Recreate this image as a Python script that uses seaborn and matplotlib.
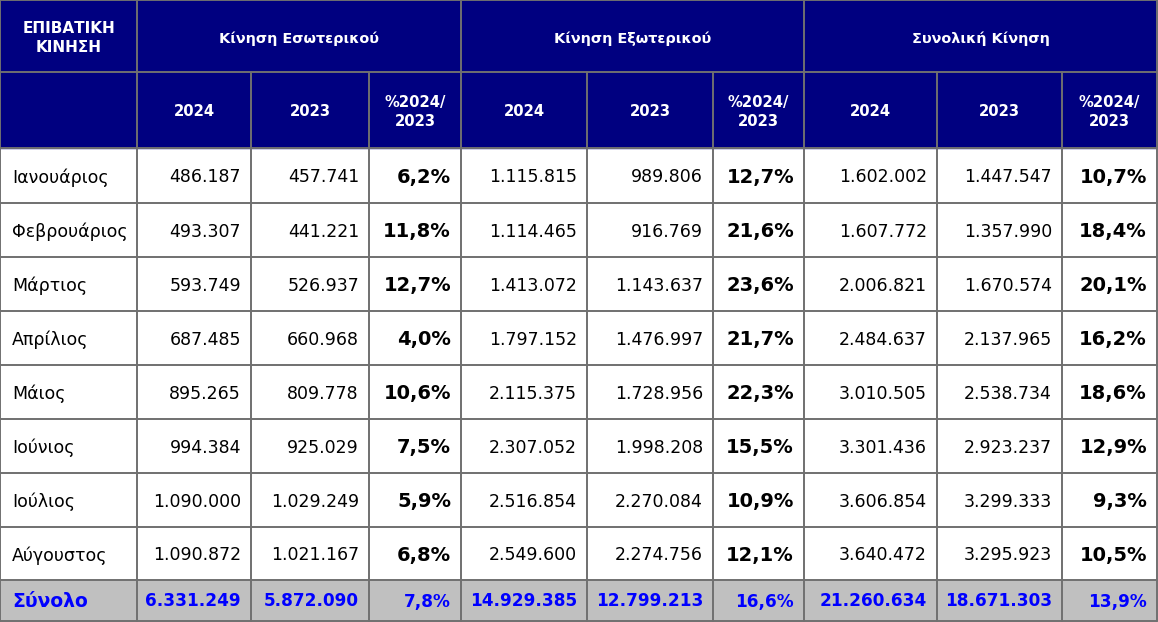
import matplotlib
matplotlib.use('Agg')
import matplotlib.pyplot as plt
import seaborn as sns
import pandas as pd
from matplotlib.patches import Rectangle

# passenger traffic data, Jan-Aug
months = ['Ιανουάριος', 'Φεβρουάριος', 'Μάρτιος', 'Απρίλιος', 'Μάιος',
          'Ιούνιος', 'Ιούλιος', 'Αύγουστος']
dom_2024 = [486187, 493307, 593749, 687485, 895265, 994384, 1090000, 1090872]
dom_2023 = [457741, 441221, 526937, 660968, 809778, 925029, 1029249, 1021167]
dom_pct = [6.2, 11.8, 12.7, 4.0, 10.6, 7.5, 5.9, 6.8]
int_2024 = [1115815, 1114465, 1413072, 1797152, 2115375, 2307052, 2516854, 2549600]
int_2023 = [989806, 916769, 1143637, 1476997, 1728956, 1998208, 2270084, 2274756]
int_pct = [12.7, 21.6, 23.6, 21.7, 22.3, 15.5, 10.9, 12.1]
tot_2024 = [1602002, 1607772, 2006821, 2484637, 3010505, 3301436, 3606854, 3640472]
tot_2023 = [1447547, 1357990, 1670574, 2137965, 2538734, 2923237, 3299333, 3295923]
tot_pct = [10.7, 18.4, 20.1, 16.2, 18.6, 12.9, 9.3, 10.5]

total_label = 'Σύνολο'
total_row = [6331249, 5872090, 7.8, 14929385, 12799213, 16.6, 21260634, 18671303, 13.9]

corner_label = 'ΕΠΙΒΑΤΙΚΗ\nΚΙΝΗΣΗ'
group_labels = ['Κίνηση Εσωτερικού', 'Κίνηση Εξωτερικού', 'Συνολική Κίνηση']
sub_labels = ['2024', '2023', '%2024/\n2023']

df = pd.DataFrame({
    'month': months,
    'd24': dom_2024, 'd23': dom_2023, 'dp': dom_pct,
    'i24': int_2024, 'i23': int_2023, 'ip': int_pct,
    't24': tot_2024, 't23': tot_2023, 'tp': tot_pct,
})


def fmt_num(v):
    return f'{v:,}'.replace(',', '.')


def fmt_pct(v):
    return f'{v:.1f}%'.replace('.', ',')


# layout (pixel grid)
col_x = [0, 137, 251, 369, 461, 587, 713, 804, 937, 1062, 1157]
row_y = [0, 72, 148, 203, 257, 311, 365, 419, 473, 527, 580, 621]

navy = '#000080'
grey_fill = '#c0c0c0'
line_col = '#707070'
blue = '#0000ff'

sns.set_theme(style='white')
plt.rcParams['font.family'] = ['DejaVu Sans']

fig = plt.figure(figsize=(11.58, 6.22), dpi=100)
ax = fig.add_axes([0, 0, 1, 1])
ax.set_xlim(0, 1158)
ax.set_ylim(622, 0)
ax.axis('off')

# backgrounds
ax.add_patch(Rectangle((0, 0), col_x[-1], row_y[2], color=navy, zorder=0))
ax.add_patch(Rectangle((0, row_y[-2]), col_x[-1], row_y[-1] - row_y[-2],
                       color=grey_fill, zorder=0))

# grid lines
lw = 1.4
for y in row_y:
    ax.plot([0, col_x[-1]], [y, y], color=line_col, lw=lw, zorder=2)
for x in col_x:
    if x in (0, 137, 461, 804, 1157):
        ax.plot([x, x], [0, row_y[-1]], color=line_col, lw=lw, zorder=2)
    else:
        ax.plot([x, x], [row_y[1], row_y[-1]], color=line_col, lw=lw, zorder=2)

# header
hdr = dict(color='white', fontweight='bold', ha='center', va='center',
           linespacing=1.4)
ax.text(col_x[1] / 2, row_y[1] / 2 + 2, corner_label, fontsize=11, **hdr)
for g, lab in enumerate(group_labels):
    x0, x1 = col_x[1 + 3 * g], col_x[4 + 3 * g]
    ax.text((x0 + x1) / 2, row_y[1] / 2 + 3, lab, fontsize=10.4, **hdr)
    for s, sl in enumerate(sub_labels):
        c = 1 + 3 * g + s
        ax.text((col_x[c] + col_x[c + 1]) / 2, (row_y[1] + row_y[2]) / 2 + 2,
                sl, fontsize=10.6, **hdr)

# body rows
cols = ['d24', 'd23', 'dp', 'i24', 'i23', 'ip', 't24', 't23', 'tp']
for r, row in df.iterrows():
    yc = (row_y[2 + r] + row_y[3 + r]) / 2 + 2
    ax.text(12, yc, row['month'], fontsize=12.5, ha='left', va='center', color='black')
    for c, key in enumerate(cols):
        xr = col_x[c + 2] - 10
        if key.endswith('p'):
            ax.text(xr, yc, fmt_pct(row[key]), fontsize=14, fontweight='bold',
                    ha='right', va='center', color='black')
        else:
            ax.text(xr, yc, fmt_num(int(row[key])), fontsize=12.5,
                    ha='right', va='center', color='black')

# total row
yc = (row_y[-2] + row_y[-1]) / 2 + 1
ax.text(12, yc, total_label, fontsize=13.5, fontweight='bold', ha='left',
        va='center', color=blue)
for c, v in enumerate(total_row):
    txt = fmt_pct(v) if c % 3 == 2 else fmt_num(v)
    ax.text(col_x[c + 2] - 10, yc, txt, fontsize=12.2, fontweight='bold',
            ha='right', va='center', color=blue)

fig.savefig('out.png', dpi=100)
